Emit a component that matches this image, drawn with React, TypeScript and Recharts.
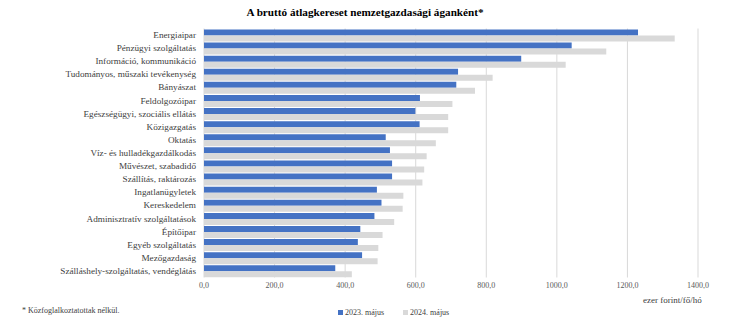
import React from 'react';
import { BarChart, Bar, XAxis, YAxis, CartesianGrid } from 'recharts';

const categories = [
  'Energiaipar',
  'Pénzügyi szolgáltatás',
  'Információ, kommunikáció',
  'Tudományos, műszaki tevékenység',
  'Bányászat',
  'Feldolgozóipar',
  'Egészségügyi, szociális ellátás',
  'Közigazgatás',
  'Oktatás',
  'Víz- és hulladékgazdálkodás',
  'Művészet, szabadidő',
  'Szállítás, raktározás',
  'Ingatlanügyletek',
  'Kereskedelem',
  'Adminisztratív szolgáltatások',
  'Építőipar',
  'Egyéb szolgáltatás',
  'Mezőgazdaság',
  'Szálláshely-szolgáltatás, vendéglátás',
];

const may2023 = [1230, 1042, 899, 720, 715, 612, 599, 611, 515, 527, 533, 533, 490, 503, 483, 443, 436, 448, 372];
const may2024 = [1334, 1140, 1025, 818, 768, 704, 692, 692, 657, 631, 624, 619, 565, 563, 539, 506, 494, 492, 419];

const xTicks = [0, 200, 400, 600, 800, 1000, 1200, 1400];

const seriesNames = ['2023. május', '2024. május'];
const title = 'A bruttó átlagkereset nemzetgazdasági áganként*';
const footnote = '* Közfoglalkoztatottak nélkül.';
const unitLabel = 'ezer forint/fő/hó';

const data = categories.map((c, i) => ({ name: c, a: may2023[i], b: may2024[i] }));

const FONT = '"Liberation Serif", "Times New Roman", serif';
const BLUE = '#4472C4';
const GREY = '#D9D9D9';

const YTick = (props: any) => {
  const { x, y, payload } = props;
  return (
    <text x={x + 4} y={y} textAnchor="end" dominantBaseline="central" fontFamily={FONT} fontSize={9.2} fill="#404040">
      {payload.value}
    </text>
  );
};

const XTick = (props: any) => {
  const { x, y, payload } = props;
  return (
    <text x={x} y={y + 2} textAnchor="middle" dominantBaseline="central" fontFamily={FONT} fontSize={8} fill="#595959">
      {Number(payload.value).toFixed(1).replace('.', ',')}
    </text>
  );
};

export default function App() {
  return (
    <div style={{ position: 'absolute', left: 0, top: 0, width: 730, height: 321, background: '#fff', fontFamily: FONT }}>
      <BarChart
        width={730}
        height={321}
        data={data}
        layout="vertical"
        margin={{ top: 28.5, right: 32, bottom: 23.5, left: 0 }}
        barGap={0}
        barCategoryGap="7%"
      >
        <CartesianGrid horizontal={false} vertical={true} stroke="#D9D9D9" strokeWidth={1} />
        <XAxis
          type="number"
          domain={[0, 1400]}
          ticks={xTicks}
          interval={0}
          axisLine={false}
          tickLine={false}
          height={20}
          tickMargin={0}
          tick={<XTick />}
        />
        <YAxis
          type="category"
          dataKey="name"
          width={204}
          interval={0}
          axisLine={false}
          tickLine={false}
          tickMargin={6}
          tick={<YTick />}
        />
        <Bar dataKey="a" name={seriesNames[0]} fill={BLUE} isAnimationActive={false} />
        <Bar dataKey="b" name={seriesNames[1]} fill={GREY} isAnimationActive={false} />
      </BarChart>
      <div style={{ position: 'absolute', left: 0, width: 730, top: 6, textAlign: 'center', fontSize: 11.2, fontWeight: 'bold', color: '#000', whiteSpace: 'nowrap' }}>
        {title}
      </div>
      <div style={{ position: 'absolute', left: 22, top: 306, fontSize: 8, color: '#404040', whiteSpace: 'nowrap' }}>
        {footnote}
      </div>
      <div style={{ position: 'absolute', left: 643, top: 295, fontSize: 9, color: '#404040', whiteSpace: 'nowrap' }}>
        {unitLabel}
      </div>
      <div style={{ position: 'absolute', left: 338, top: 308, fontSize: 8, color: '#404040', whiteSpace: 'nowrap', display: 'flex', alignItems: 'center' }}>
        <span style={{ display: 'inline-block', width: 5, height: 5, background: BLUE, marginRight: 2 }} />
        <span style={{ marginRight: 19 }}>{seriesNames[0]}</span>
        <span style={{ display: 'inline-block', width: 5, height: 5, background: GREY, marginRight: 2 }} />
        <span>{seriesNames[1]}</span>
      </div>
    </div>
  );
}
